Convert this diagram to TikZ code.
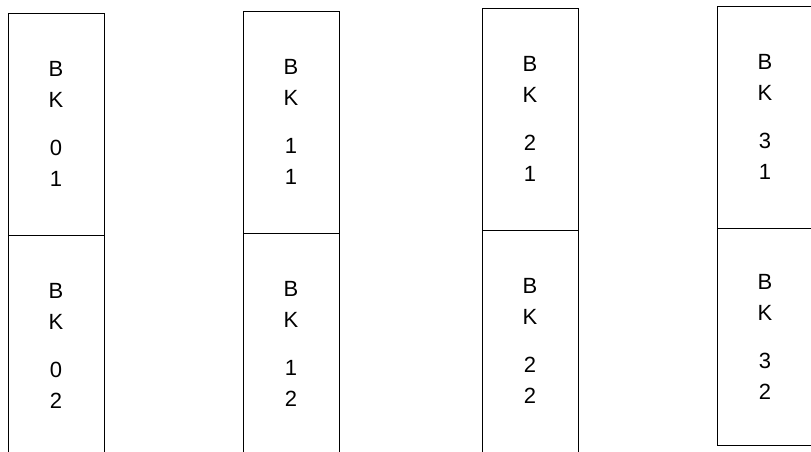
\documentclass[tikz,border=0pt]{standalone}
\usepackage{fontspec}
\setmainfont{Liberation Sans}
\usetikzlibrary{positioning}

\begin{document}
\begin{tikzpicture}[
				x=1pt, y=-1pt,
				block/.style={
					draw,
					line width=0.9pt,
					minimum width=96pt,
					minimum height=222pt,
					inner sep=0pt,
					outer sep=0pt,
					align=center,
					font=\fontsize{22}{31}\selectfont
				}
				]
				\useasboundingbox (0,0) rectangle (811,451);
				\clip (0,0) rectangle (811,451);
				
				\node[block, anchor=north west] (bk01) at (8,13) {B\\K\\[17pt]0\\1};
				\node[block, below=0pt of bk01] (bk02) {B\\K\\[17pt]0\\2};
				
				\node[block, anchor=north west] (bk11) at (243,11) {B\\K\\[17pt]1\\1};
				\node[block, below=0pt of bk11] (bk12) {B\\K\\[17pt]1\\2};
				
				\node[block, anchor=north west] (bk21) at (482,8) {B\\K\\[17pt]2\\1};
				\node[block, below=0pt of bk21] (bk22) {B\\K\\[17pt]2\\2};
				
				\node[block, anchor=north west] (bk31) at (717,6) {B\\K\\[17pt]3\\1};
				\node[block, minimum height=217pt, below=0pt of bk31] (bk32) {B\\K\\[17pt]3\\2};
			\end{tikzpicture}
\end{document}
